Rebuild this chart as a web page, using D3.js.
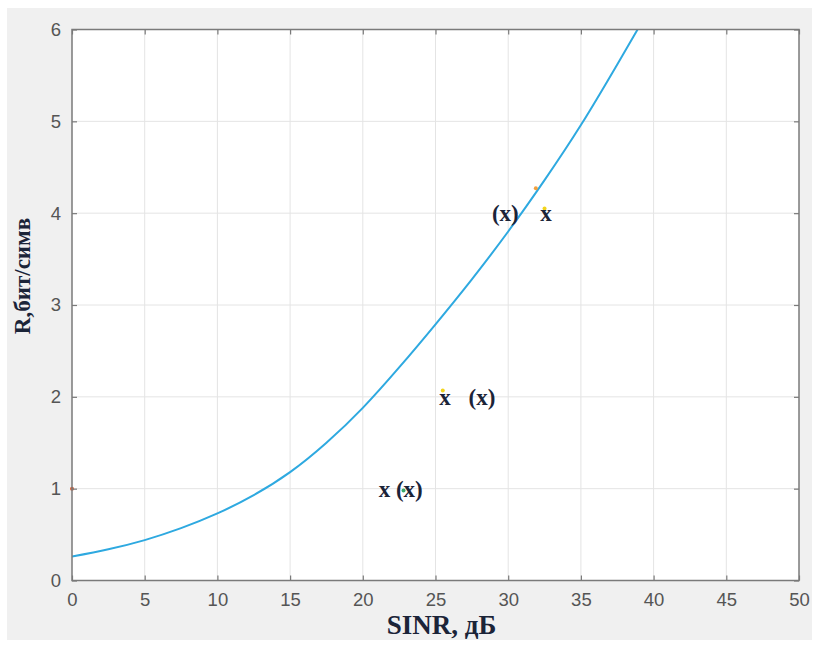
<!DOCTYPE html>
<html>
<head>
<meta charset="utf-8">
<script src="https://cdn.jsdelivr.net/npm/d3@7"></script>
<style>
  html, body { margin: 0; padding: 0; background: #ffffff; }
  svg { display: block; }
</style>
</head>
<body>
<svg id="chart" width="818" height="645"></svg>
<script>
// ---- data ----
const sinrValues = [0, 2.5, 5, 7.5, 10, 12.5, 15, 17.5, 20, 22.5, 25, 27.5, 30, 32.5, 35, 37.5, 40];
const rateValues = [0.26, 0.34, 0.44, 0.57, 0.73, 0.93, 1.18, 1.50, 1.88, 2.32, 2.79, 3.28, 3.80, 4.36, 4.96, 5.62, 6.30];
const xTicks = [0, 5, 10, 15, 20, 25, 30, 35, 40, 45, 50];
const yTicks = [0, 1, 2, 3, 4, 5, 6];
const markerLabels = ["(x)", "x", "x", "(x)", "x", "(x)"];
const markerX = [29.8, 32.6, 25.65, 28.2, 21.5, 23.2];
const markerY = [4, 4, 2, 2, 1, 1];
const dotX = [32.5, 25.5, 22.8, 31.9, 0];
const dotY = [4.05, 2.07, 0.98, 4.27, 1.0];
const dotColors = ["#f2d41c", "#f2d41c", "#3aa86b", "#f0a040", "#d9582c"];
const xLabel = "SINR, дБ";
const yLabel = "R,бит/симв";

// ---- layout ----
const svg = d3.select("#chart");
const pL = 72, pR = 799, pT = 29.5, pB = 580.5;

svg.append("rect").attr("x", 7).attr("y", 8).attr("width", 805).attr("height", 632).attr("fill", "#f0f0f0");
svg.append("rect").attr("x", pL).attr("y", pT).attr("width", pR - pL).attr("height", pB - pT).attr("fill", "#ffffff");

const x = d3.scaleLinear().domain([0, 50]).range([pL, pR]);
const y = d3.scaleLinear().domain([0, 6]).range([pB, pT]);

// grid
const grid = svg.append("g").attr("stroke", "#e4e4e4").attr("stroke-width", 1);
grid.selectAll("line.gx").data(xTicks.slice(1, -1)).enter().append("line")
  .attr("x1", d => x(d)).attr("x2", d => x(d)).attr("y1", pT).attr("y2", pB);
grid.selectAll("line.gy").data(yTicks.slice(1, -1)).enter().append("line")
  .attr("x1", pL).attr("x2", pR).attr("y1", d => y(d)).attr("y2", d => y(d));

// curve
const defs = svg.append("defs");
defs.append("clipPath").attr("id", "clip").append("rect")
  .attr("x", pL).attr("y", pT).attr("width", pR - pL).attr("height", pB - pT);
const pts = sinrValues.map((v, i) => [v, rateValues[i]]);
svg.append("path").datum(pts)
  .attr("clip-path", "url(#clip)")
  .attr("fill", "none").attr("stroke", "#2ea9e0").attr("stroke-width", 2)
  .attr("d", d3.line().x(d => x(d[0])).y(d => y(d[1])).curve(d3.curveNatural));

// small coloured marks
svg.append("g").selectAll("circle").data(dotX).enter().append("circle")
  .attr("cx", d => x(d)).attr("cy", (d, i) => y(dotY[i])).attr("r", 2)
  .attr("fill", (d, i) => dotColors[i]);

// axes
const axisColor = "#7a7a7a";
const tickFont = "'Liberation Sans', Arial, sans-serif";
function styleAxis(g) {
  g.select(".domain").remove();
  g.selectAll(".tick line").attr("stroke", axisColor).attr("stroke-width", 1.2);
  g.selectAll(".tick text").attr("fill", "#555555").style("font-family", tickFont).style("font-size", "18.5px");
}
svg.append("g").attr("transform", `translate(0,${pB})`)
  .call(d3.axisBottom(x).tickValues(xTicks).tickSize(-5).tickPadding(12).tickFormat(d3.format("d")))
  .call(styleAxis);
svg.append("g").attr("transform", `translate(0,${pT})`)
  .call(d3.axisTop(x).tickValues(xTicks).tickSize(-5).tickFormat(""))
  .call(styleAxis);
svg.append("g").attr("transform", `translate(${pL},0)`)
  .call(d3.axisLeft(y).tickValues(yTicks).tickSize(-5).tickPadding(11).tickFormat(d3.format("d")))
  .call(styleAxis);
svg.append("g").attr("transform", `translate(${pR},0)`)
  .call(d3.axisRight(y).tickValues(yTicks).tickSize(-5).tickFormat(""))
  .call(styleAxis);

svg.append("rect").attr("x", pL).attr("y", pT).attr("width", pR - pL).attr("height", pB - pT)
  .attr("fill", "none").attr("stroke", axisColor).attr("stroke-width", 1.5);

// marker labels
const labelColor = "#1b2438";
svg.append("g").selectAll("text").data(markerLabels).enter().append("text")
  .attr("x", (d, i) => x(markerX[i]))
  .attr("y", (d, i) => y(markerY[i]) + 3)
  .attr("text-anchor", "middle").attr("dominant-baseline", "middle")
  .attr("fill", labelColor)
  .style("font-family", "'Liberation Serif', 'Times New Roman', serif")
  .style("font-weight", "bold").style("font-size", "23px")
  .text(d => d);

// axis labels
svg.append("text").attr("x", (pL + pR) / 2 + 6).attr("y", 634)
  .attr("text-anchor", "middle").attr("fill", labelColor)
  .style("font-family", "'Liberation Serif', 'Times New Roman', serif")
  .style("font-weight", "bold").style("font-size", "27px")
  .text(xLabel);
svg.append("text").attr("transform", "translate(30,276) rotate(-90)")
  .attr("text-anchor", "middle").attr("fill", labelColor)
  .style("font-family", "'Liberation Serif', 'Times New Roman', serif")
  .style("font-weight", "bold").style("font-size", "23px")
  .text(yLabel);
</script>
</body>
</html>
